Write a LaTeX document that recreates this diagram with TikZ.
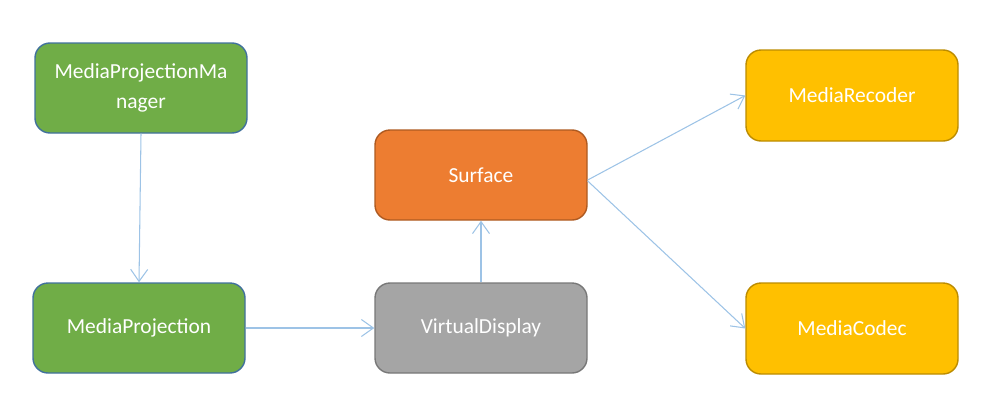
\documentclass[tikz,border=0pt]{standalone}
\usepackage{fontspec}
\setmainfont{Carlito}
\usetikzlibrary{arrows.meta}
\definecolor{pgreen}{RGB}{112,173,71}
\definecolor{pblue}{RGB}{65,113,156}
\definecolor{porange}{RGB}{237,125,49}
\definecolor{porangeb}{RGB}{174,90,33}
\definecolor{pgray}{RGB}{165,165,165}
\definecolor{pgrayb}{RGB}{120,120,120}
\definecolor{pyellow}{RGB}{255,192,0}
\definecolor{pyellowb}{RGB}{188,140,0}
\definecolor{plink}{RGB}{157,195,230}

\begin{document}
\begin{tikzpicture}[
  font=\fontsize{12.2}{17.5}\selectfont,
  box/.style={rectangle,rounded corners=0.3cm,minimum width=4.24cm,minimum height=1.8cm,
    inner sep=2pt,text=white,align=center,line width=0.8pt},
  api/.style={box,fill=pgreen,draw=pblue},
  surf/.style={box,fill=porange,draw=porangeb},
  disp/.style={box,fill=pgray,draw=pgrayb},
  sink/.style={box,fill=pyellow,draw=pyellowb,minimum height=1.82cm},
  link/.style={plink,line width=0.6pt,-{Straight Barb[length=2.4mm,width=3.4mm]}}
]
\useasboundingbox (0,0) rectangle (19.7,8.3);
\node[api]  (mpm)  at (2.82,6.54) {MediaProjectionMa\\nager};
\node[api]  (mp)   at (2.78,1.74) {MediaProjection};
\node[surf] (sf)   at (9.62,4.8)  {Surface};
\node[disp] (vd)   at (9.62,1.74) {VirtualDisplay};
\node[sink] (mrec) at (17.04,6.39) {MediaRecoder};
\node[sink] (mcod) at (17.04,1.73) {MediaCodec};
\draw[link] (mpm.south) -- (mp.north);
\draw[link] (mp.east) -- (vd.west);
\draw[link] (vd.north) -- (sf.south);
\draw[link] ([yshift=-0.1cm]sf.east) -- (mrec.west);
\draw[link] ([yshift=-0.12cm]sf.east) -- (mcod.west);
\end{tikzpicture}
\end{document}
